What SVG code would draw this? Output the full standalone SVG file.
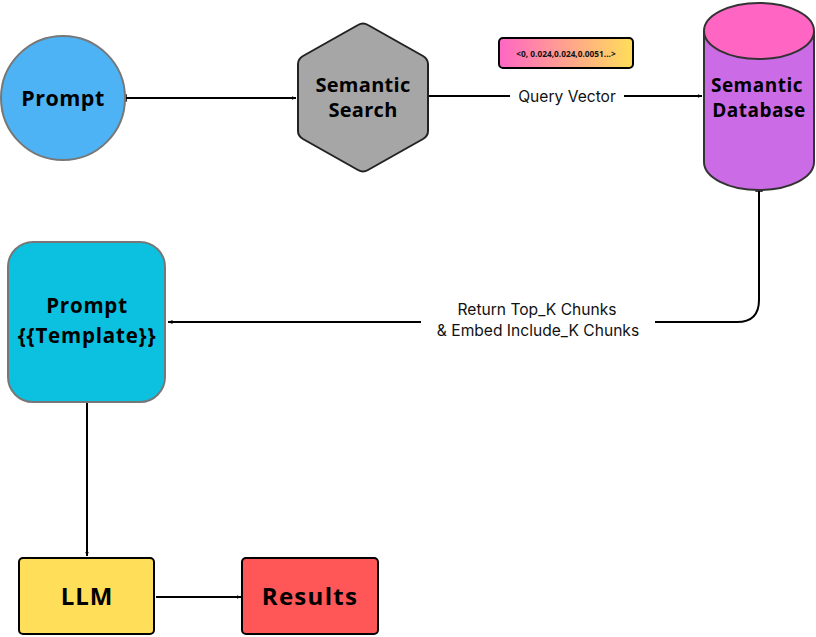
<svg xmlns="http://www.w3.org/2000/svg" width="816" height="637" viewBox="0 0 816 637">
<style>
.node{font-family:"Open Sans","DejaVu Sans",sans-serif;font-weight:700;fill:#000;text-anchor:middle}
.lbl{font-family:Inter,"Liberation Sans",sans-serif;font-size:15.6px;fill:#111;text-anchor:middle}
.con{fill:none;stroke:#000;stroke-width:2}
</style>
<defs>
<marker id="ah" viewBox="0 0 10 10" refX="9" refY="5" markerWidth="5" markerHeight="5" orient="auto-start-reverse" markerUnits="userSpaceOnUse">
<path d="M0,1 L9,5 L0,9 Z" fill="#000"/>
</marker>
<marker id="bar" viewBox="0 0 4 10" refX="1" refY="5" markerWidth="3" markerHeight="8" orient="auto" markerUnits="userSpaceOnUse">
<path d="M1,0 V10" stroke="#000" stroke-width="2"/>
</marker>
<linearGradient id="vg" x1="0" y1="0" x2="1" y2="0">
<stop offset="0" stop-color="#FF66C4"/>
<stop offset="1" stop-color="#FFDE59"/>
</linearGradient>
</defs>
<rect width="816" height="637" fill="#fff"/>

<g id="connectors">
<path class="con" d="M126,98 H296" marker-start="url(#bar)" marker-end="url(#ah)"/>
<path class="con" d="M429,96 H702" marker-end="url(#ah)"/>
<path class="con" d="M759,191 V300 Q759,322 737,322 H168" marker-start="url(#bar)" marker-end="url(#ah)"/>
<path class="con" d="M87,402 V556" marker-end="url(#ah)"/>
<path class="con" d="M156,597 H241" marker-end="url(#ah)"/>
<rect x="510" y="86" width="114" height="20" fill="#fff"/>
<text class="lbl" x="567" y="101.5">Query Vector</text>
<rect x="421" y="298" width="234" height="44" fill="#fff"/>
<text class="lbl" x="537" y="315">Return Top_K Chunks</text>
<text class="lbl" x="538" y="336">&amp; Embed Include_K Chunks</text>
</g>

<g id="prompt">
<circle cx="63" cy="98" r="62" fill="#4DB3F5" stroke="#777" stroke-width="2"/>
<text class="node" x="63" y="106" font-size="21.5" letter-spacing="0.5">Prompt</text>
</g>

<g id="semantic-search">
<path d="M358,25 Q363,22 368,25 L423,56 Q428,59 428,64 L428,131 Q428,136 423,139 L368,170 Q363,173 358,170 L303,139 Q298,136 298,131 L298,64 Q298,59 303,56 Z" fill="#A6A6A6" stroke="#222" stroke-width="2"/>
<text class="node" x="363" y="92" font-size="20" letter-spacing="0.3">Semantic</text>
<text class="node" x="363" y="117" font-size="20" letter-spacing="0.3">Search</text>
</g>

<g id="vector-badge">
<rect x="499" y="38" width="134" height="30" rx="4" fill="url(#vg)" stroke="#000" stroke-width="2"/>
<text x="566" y="56.5" font-family="'Open Sans',sans-serif" font-weight="700" font-size="8.3" text-anchor="middle" fill="#111">&lt;0, 0.024,0.024,0.0051...&gt;</text>
</g>

<g id="semantic-database">
<path d="M704,31 V162 A55,28 0 0 0 814,162 V31" fill="#CB6CE6" stroke="#333" stroke-width="2"/>
<ellipse cx="759" cy="31" rx="55" ry="28" fill="#FF66C4" stroke="#333" stroke-width="2"/>
<text class="node" x="757" y="92" font-size="19" letter-spacing="0.5">Semantic</text>
<text class="node" x="759" y="117" font-size="19" letter-spacing="0.5">Database</text>
</g>

<g id="prompt-template">
<rect x="8" y="242" width="157" height="160" rx="25" fill="#0CC0DF" stroke="#777" stroke-width="2"/>
<text class="node" x="87" y="313" font-size="20.5" letter-spacing="0.8">Prompt</text>
<text class="node" x="87" y="343" font-size="20.5" letter-spacing="0.8">{{Template}}</text>
</g>

<g id="llm">
<rect x="19" y="558" width="135" height="76" rx="4" fill="#FFDE59" stroke="#000" stroke-width="2"/>
<text class="node" x="87" y="605" font-size="24" letter-spacing="1">LLM</text>
</g>

<g id="results">
<rect x="242" y="558" width="136" height="76" rx="4" fill="#FF5757" stroke="#000" stroke-width="2"/>
<text class="node" x="310" y="605" font-size="24" letter-spacing="1.3">Results</text>
</g>
</svg>
